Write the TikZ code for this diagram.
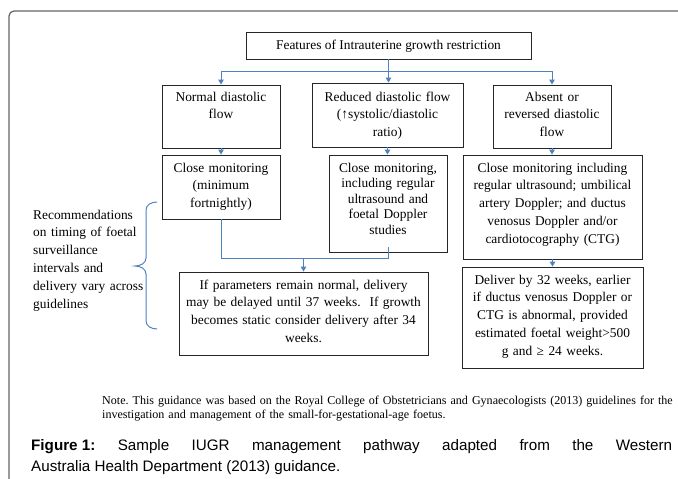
\documentclass[tikz,border=0pt]{standalone}
\usepackage{fontspec}
\setmainfont{Liberation Serif}
\newfontfamily\capfont{Liberation Sans}
\usetikzlibrary{arrows.meta}
\definecolor{flowblue}{RGB}{79,129,189}
\definecolor{framegray}{RGB}{100,100,100}
\frenchspacing
\begin{document}
\begin{tikzpicture}[x=1pt,y=-1pt,
  box/.style={draw=black!85, line width=0.9pt, rectangle, inner sep=0pt},
  btext/.style={anchor=base, align=center, inner sep=0pt, font=\fontsize{13.4}{17.8}\selectfont},
  conn/.style={draw=flowblue, line width=1pt},
  arr/.style={conn, -{Triangle[length=5pt,width=5.5pt]}},
  plain/.style={anchor=base west, align=left, inner sep=0pt},
]
\useasboundingbox (0,0) rectangle (678,479);
\fill[white] (0,0) rectangle (678,479);
% outer frame
\draw[framegray, line width=1.2pt, rounded corners=5pt] (9,490) -- (9,11) -- (690,11);

% boxes
\node[box, minimum width=285pt, minimum height=27pt] (T) at (388.5,45.5) {};
\node[box, minimum width=118pt, minimum height=63pt] (A) at (221,116.5) {};
\node[box, minimum width=151pt, minimum height=64pt] (B) at (387.5,115) {};
\node[box, minimum width=118pt, minimum height=63pt] (C) at (552,116.5) {};
\node[box, minimum width=118pt, minimum height=64pt] (D) at (221,187) {};
\node[box, minimum width=118pt, minimum height=97pt] (E) at (388,203.5) {};
\node[box, minimum width=179pt, minimum height=104pt] (F) at (552.5,207) {};
\node[box, minimum width=181pt, minimum height=101pt] (G) at (552.5,317.5) {};
\node[box, minimum width=249pt, minimum height=83pt] (H) at (303.5,313.5) {};

% box texts
\node[btext] (Tt) at (388.5,49) {Features of Intrauterine growth restriction};
\node[btext, text width=114pt] (At) at (221,101) {Normal diastolic\\flow};
\node[btext, text width=147pt] (Bt) at (387.5,101) {Reduced diastolic flow\\(↑systolic/diastolic\\ratio)};
\node[btext, text width=114pt] (Ct) at (552,101) {Absent or\\reversed diastolic\\flow};
\node[btext, text width=114pt] (Dt) at (221,172) {Close monitoring\\(minimum\\fortnightly)};
\node[btext, text width=114pt, font=\fontsize{13.4}{15.5}\selectfont] (Et) at (388,172) {Close monitoring,\\including regular\\ultrasound and\\foetal Doppler\\studies};
\node[btext, text width=175pt] (Ft) at (552.5,172) {Close monitoring including\\regular ultrasound; umbilical\\artery Doppler; and ductus\\venosus Doppler and/or\\cardiotocography (CTG)};
\node[btext, text width=177pt] (Gt) at (552.5,284) {Deliver by 32 weeks, earlier\\if ductus venosus Doppler or\\CTG is abnormal, provided\\estimated foetal weight>500\\g and ≥ 24 weeks.};
\node[btext, text width=245pt] (Ht) at (303.5,289) {If parameters remain normal, delivery\\may be delayed until 37 weeks.\ \ If growth\\becomes static consider delivery after 34\\weeks.};

% left annotation
\node[plain, text width=125pt, font=\fontsize{13.4}{17.8}\selectfont] (rec) at (33,219) {Recommendations\\on timing of foetal\\surveillance\\intervals and\\delivery vary across\\guidelines};
\draw[conn] (157,202) to[out=180,in=90] (146,210) -- (146,258) to[out=-90,in=0] (135,266)
  to[out=0,in=90] (146,274) -- (146,321) to[out=-90,in=180] (157,329);

% connectors
\coordinate (split) at (388.5,71);
\draw[arr] (T.south) -- (T.south |- B.north);
\draw[conn] (A.north |- split) -- (C.north |- split);
\draw[arr] (A.north |- split) -- (A.north);
\draw[arr] (C.north |- split) -- (C.north);
\draw[arr] (A.south) -- (D.north);
\draw[arr] (B.south) -- (B.south |- E.north);
\draw[arr] (C.south) -- (C.south |- F.north);
\draw[arr] (F.south) -- (F.south |- G.north);
\coordinate (jr) at (388,258);
\coordinate (etick) at (388,247);
\draw[conn] (D.south) |- (jr) -- (etick);
\draw[arr] (H.north |- jr) -- (H.north);

% note and caption
\node[plain, text width=620pt, font=\fontsize{12.05}{14}\selectfont] (note) at (102,404) {Note. This guidance was based on the Royal College of Obstetricians and Gynaecologists (2013) guidelines for the\\investigation and management of the small-for-gestational-age foetus.};
\node[plain, font=\capfont\fontsize{15.2}{22}\selectfont] (cap1) at (31,450) {\makebox[641pt][s]{\textbf{\mbox{Figure 1:}} Sample IUGR management pathway adapted from the Western}};
\node[plain, font=\capfont\fontsize{15.2}{22}\selectfont] (cap2) at (31,471) {Australia Health Department (2013) guidance.};
\end{tikzpicture}
\end{document}
